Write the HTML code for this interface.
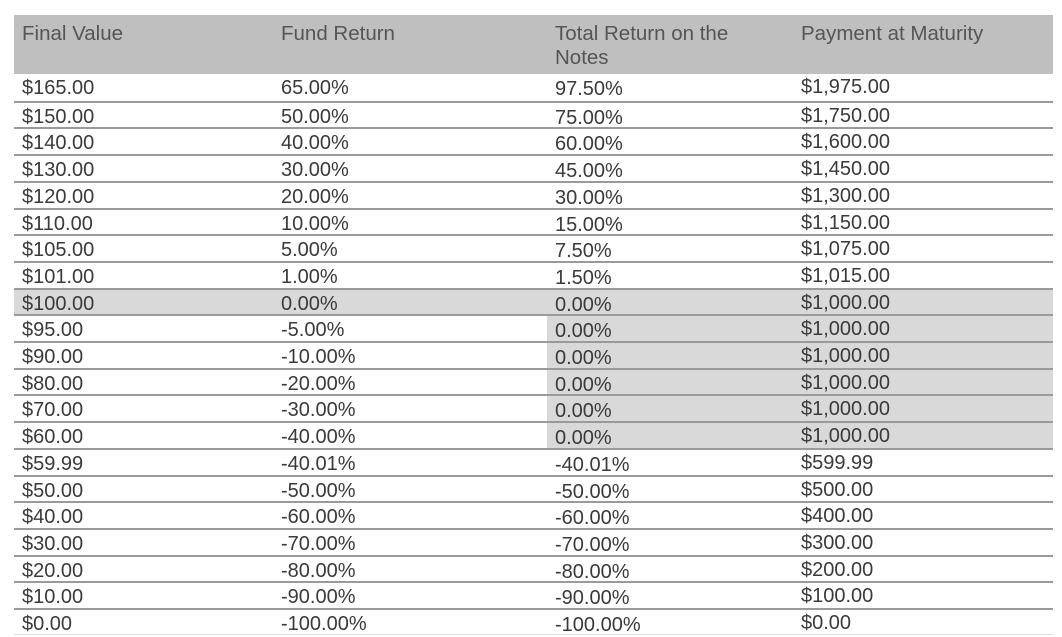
<!DOCTYPE html>
<html><head><meta charset="utf-8"><style>
body{margin:0;width:1062px;height:637px;background:#fff;position:relative;overflow:hidden;font-family:"Liberation Sans",Arial,sans-serif;color:#3a3a3a}
.h{position:absolute;left:14px;top:15px;width:1039px;height:59px;background:#bfbfbf}
.ht{position:absolute;font-size:20.5px;color:#555;line-height:24px}
.r{position:absolute;left:14px;width:1039px;height:26.7px;border-top:2px solid #9a9a9a;box-sizing:border-box}
.c{position:absolute;font-size:20px;line-height:24px;top:0px}
.s{position:absolute;background:#d9d9d9;height:26.7px}
</style></head><body>
<div class="h"></div>
<div class="ht" style="left:22px;top:22px">Final Value</div>
<div class="ht" style="left:281px;top:22px">Fund Return</div>
<div class="ht" style="left:555px;top:22px">Total Return on the<br>Notes</div>
<div class="ht" style="left:801px;top:22px">Payment at Maturity</div>
<div id="rows"></div>
<script>
var d=[["$165.00","65.00%","97.50%","$1,975.00"],["$150.00","50.00%","75.00%","$1,750.00"],["$140.00","40.00%","60.00%","$1,600.00"],["$130.00","30.00%","45.00%","$1,450.00"],["$120.00","20.00%","30.00%","$1,300.00"],["$110.00","10.00%","15.00%","$1,150.00"],["$105.00","5.00%","7.50%","$1,075.00"],["$101.00","1.00%","1.50%","$1,015.00"],["$100.00","0.00%","0.00%","$1,000.00"],["$95.00","-5.00%","0.00%","$1,000.00"],["$90.00","-10.00%","0.00%","$1,000.00"],["$80.00","-20.00%","0.00%","$1,000.00"],["$70.00","-30.00%","0.00%","$1,000.00"],["$60.00","-40.00%","0.00%","$1,000.00"],["$59.99","-40.01%","-40.01%","$599.99"],["$50.00","-50.00%","-50.00%","$500.00"],["$40.00","-60.00%","-60.00%","$400.00"],["$30.00","-70.00%","-70.00%","$300.00"],["$20.00","-80.00%","-80.00%","$200.00"],["$10.00","-90.00%","-90.00%","$100.00"],["$0.00","-100.00%","-100.00%","$0.00"]];
var h="";
d.forEach(function(r,i){var y=74+26.7*i;
if(i==8)h+='<div class="s" style="left:14px;width:1039px;top:'+y+'px"></div>';
if(i>8&&i<14)h+='<div class="s" style="left:547px;width:506px;top:'+y+'px"></div>';
h+='<div class="r" style="top:'+y+'px'+(i==0?';border-top:none':'')+'">'+
'<span class="c" style="left:8px;top:2px">'+r[0]+'</span><span class="c" style="left:267px;top:2px">'+r[1]+'</span><span class="c" style="left:541px;top:3px">'+r[2]+'</span><span class="c" style="left:787px;top:1px">'+r[3]+'</span></div>';});
h+='<div style="position:absolute;left:14px;width:1039px;top:634px;border-top:1px solid #ddd"></div>';
document.getElementById("rows").innerHTML=h;
</script>
</body></html>
